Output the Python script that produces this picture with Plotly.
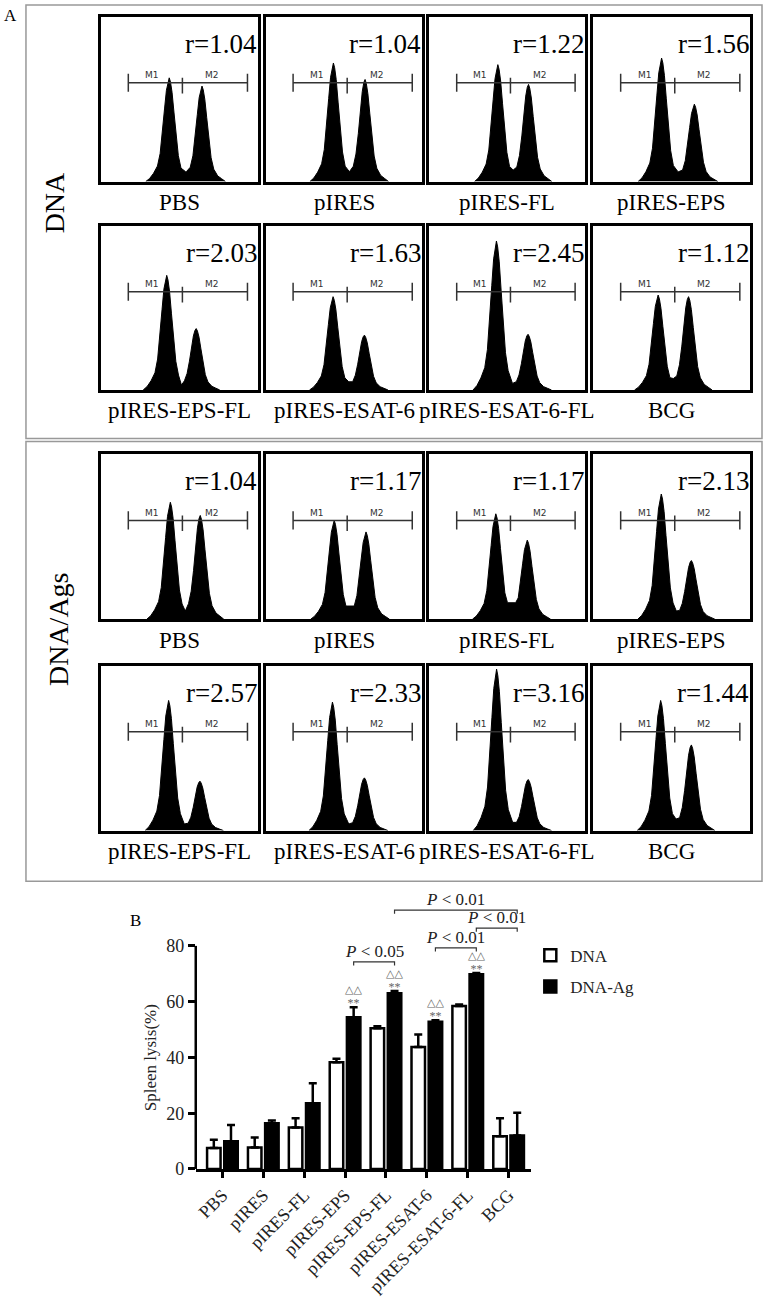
import plotly.graph_objects as go

W, H = 767, 1304
SERIF = "Liberation Serif, Times New Roman, serif"
SANS = "DejaVu Sans, Arial, sans-serif"

# ---------------- Panel A data ----------------
panel_labels = ["PBS", "pIRES", "pIRES-FL", "pIRES-EPS",
                "pIRES-EPS-FL", "pIRES-ESAT-6", "pIRES-ESAT-6-FL", "BCG"]
r_dna = [1.04, 1.04, 1.22, 1.56, 2.03, 1.63, 2.45, 1.12]
r_dna_ags = [1.04, 1.17, 1.17, 2.13, 2.57, 2.33, 3.16, 1.44]

# histogram peaks (channel position on 0-1 scale, relative count height 0-1)
m1_pos_dna = [0.436, 0.432, 0.439, 0.436, 0.420, 0.430, 0.430, 0.414]
m1_height_dna = [0.63, 0.72, 0.71, 0.75, 0.70, 0.57, 0.91, 0.58]
m2_pos_dna = [0.645, 0.634, 0.636, 0.645, 0.608, 0.630, 0.633, 0.608]
m2_height_dna = [0.58, 0.62, 0.59, 0.47, 0.375, 0.335, 0.34, 0.57]
valley_dna = [0.06, 0.06, 0.07, 0.06, 0.03, 0.05, 0.04, 0.07]

m1_pos_ags = [0.443, 0.437, 0.426, 0.434, 0.432, 0.426, 0.431, 0.430]
m1_height_ags = [0.71, 0.60, 0.64, 0.76, 0.79, 0.78, 0.98, 0.79]
m2_pos_ags = [0.634, 0.640, 0.628, 0.626, 0.632, 0.630, 0.634, 0.626]
m2_height_ags = [0.63, 0.53, 0.48, 0.356, 0.30, 0.32, 0.31, 0.52]
valley_ags = [0.05, 0.08, 0.10, 0.05, 0.04, 0.04, 0.05, 0.07]

# shape of a single peak (offset, fraction of peak height)
peak_shape_dx = [-0.15, -0.125, -0.10, -0.075, -0.058, -0.043, -0.03, -0.018, -0.008, 0.0,
                 0.008, 0.018, 0.03, 0.043, 0.058, 0.075, 0.10, 0.125, 0.15]
peak_shape_frac = [0.0, 0.03, 0.08, 0.15, 0.27, 0.47, 0.70, 0.88, 0.97, 1.0,
                   0.96, 0.86, 0.67, 0.45, 0.25, 0.13, 0.06, 0.03, 0.0]

# M1 / M2 gates
gate_bounds = [0.175, 0.52, 0.935]
gate_level = 0.6

# ---------------- Panel B data ----------------
categories = ["PBS", "pIRES", "pIRES-FL", "pIRES-EPS",
              "pIRES-EPS-FL", "pIRES-ESAT-6", "pIRES-ESAT-6-FL", "BCG"]
dna_lysis = [7.5, 7.7, 14.9, 38.3, 50.5, 43.7, 58.4, 11.7]
dna_err = [3.0, 3.6, 3.3, 1.2, 0.7, 4.5, 0.6, 6.5]
dnaag_lysis = [9.9, 16.4, 23.6, 54.4, 63.0, 52.8, 69.8, 12.0]
dnaag_err = [5.9, 1.0, 7.1, 3.6, 0.8, 0.5, 0.5, 8.2]
y_ticks = [0, 20, 40, 60, 80]

sig_left = [3, 5, 6, 4]
sig_right = [4, 6, 7, 7]
sig_value = ["0.05", "0.01", "0.01", "0.01"]
sig_level = [74.3, 79.3, 86.4, 92.8]
marked_groups = [3, 4, 5, 6]


def px(x):
    return x / W


def py(y):
    return 1 - y / H


def outline(p1, h1, p2, h2, v):
    mid = (p1 + p2) / 2
    xs, ys = [], []
    for dx, f in zip(peak_shape_dx, peak_shape_frac):
        x = p1 + dx
        if x < mid:
            xs.append(x)
            ys.append(max(h1 * f, v) if x > p1 else h1 * f)
    xs.append(mid)
    ys.append(v)
    for dx, f in zip(peak_shape_dx, peak_shape_frac):
        x = p2 + dx
        if x > mid:
            xs.append(x)
            ys.append(max(h2 * f, v) if x < p2 else h2 * f)
    return xs, ys


def paper_text(x, y, text, size, family=SERIF, color="black", angle=0):
    return dict(x=px(x), y=py(y), xref="paper", yref="paper", text=text, showarrow=False,
                xanchor="center", yanchor="middle", textangle=angle,
                font=dict(family=family, size=size, color=color))


fig = go.Figure()
layout = dict(
    width=W, height=H, margin=dict(l=0, r=0, t=0, b=0, pad=0),
    paper_bgcolor="white", plot_bgcolor="white", showlegend=True,
)
annotations = []
shapes = []

# ---- Panel A layout ----
col_x = [(100, 257), (265, 422), (429, 585), (593, 750)]
row_y = [(17, 183), (228, 393), (458, 624), (671, 837)]

groups = [
    (r_dna, m1_pos_dna, m1_height_dna, m2_pos_dna, m2_height_dna, valley_dna),
    (r_dna_ags, m1_pos_ags, m1_height_ags, m2_pos_ags, m2_height_ags, valley_ags),
]

idx = 0
for g, (rv, p1s, h1s, p2s, h2s, vs) in enumerate(groups):
    for k in range(8):
        row = g * 2 + k // 4
        col = k % 4
        n = idx + 2
        xa, ya = f"x{n}", f"y{n}"
        x0, x1 = col_x[col]
        y0, y1 = row_y[row]
        layout[f"xaxis{n}"] = dict(domain=[px(x0), px(x1)], range=[0, 1], anchor=ya,
                                  showline=True, mirror=True, linewidth=3, linecolor="black",
                                  showticklabels=False, ticks="", showgrid=False, zeroline=False,
                                  fixedrange=True)
        layout[f"yaxis{n}"] = dict(domain=[py(y1), py(y0)], range=[0, 1], anchor=xa,
                                  showline=True, mirror=True, linewidth=3, linecolor="black",
                                  showticklabels=False, ticks="", showgrid=False, zeroline=False,
                                  fixedrange=True)
        hx, hy = outline(p1s[k], h1s[k], p2s[k], h2s[k], vs[k])
        fig.add_trace(go.Scatter(x=hx, y=hy, xaxis=xa, yaxis=ya, mode="lines",
                                 fill="tozeroy", fillcolor="black",
                                 line=dict(color="black", width=1),
                                 showlegend=False, hoverinfo="skip"))
        g0, g1, g2 = gate_bounds
        L = gate_level
        fig.add_trace(go.Scatter(
            x=[g0, g2, None, g0, g0, None, g1, g1, None, g2, g2],
            y=[L, L, None, L - 0.055, L + 0.055, None, L - 0.065, L + 0.03, None, L - 0.055, L + 0.055],
            xaxis=xa, yaxis=ya, mode="lines", line=dict(color="#333", width=1.5),
            showlegend=False, hoverinfo="skip"))
        annotations.append(dict(x=(g0 + g1) / 2 - 0.02, y=L + 0.045, xref=xa, yref=ya, text="M1",
                                xanchor="center", yanchor="middle",
                                showarrow=False, font=dict(family=SANS, size=9, color="#333")))
        annotations.append(dict(x=(g1 + g2) / 2 - 0.02, y=L + 0.045, xref=xa, yref=ya, text="M2",
                                xanchor="center", yanchor="middle",
                                showarrow=False, font=dict(family=SANS, size=9, color="#333")))
        annotations.append(dict(x=px(x1 + 1), y=py(y0 + 27), xref="paper", yref="paper",
                                xanchor="right", yanchor="middle",
                                text=f"r={rv[k]:.2f}", showarrow=False,
                                font=dict(family=SERIF, size=27, color="black")))
        annotations.append(paper_text((x0 + x1) / 2, y1 + 21, panel_labels[k], 23))
        idx += 1

# frames of panel A
shapes.append(dict(type="rect", xref="paper", yref="paper", x0=px(25), x1=px(762),
                   y0=py(442), y1=py(5), line=dict(color="#999", width=1.5)))
shapes.append(dict(type="rect", xref="paper", yref="paper", x0=px(25), x1=px(762),
                   y0=py(888), y1=py(445), line=dict(color="#999", width=1.5)))
annotations.append(paper_text(10, 16, "A", 17))
annotations.append(paper_text(54, 204, "DNA", 28, angle=-90))
annotations.append(paper_text(57, 634, "DNA/Ags", 28, angle=-90))

# ---- Panel B ----
bar_w = 0.33
fig.add_trace(go.Bar(
    x=categories, y=dna_lysis, name="DNA", width=bar_w, offset=-0.375,
    marker=dict(color="white", line=dict(color="black", width=2.5)),
    error_y=dict(type="data", symmetric=False, array=dna_err, arrayminus=[0] * len(dna_err),
                 color="black", thickness=2.5, width=4),
    legendgroup="a"))
fig.add_trace(go.Bar(
    x=categories, y=dnaag_lysis, name="DNA-Ag", width=bar_w, offset=0.045,
    marker=dict(color="black", line=dict(color="black", width=2.5)),
    error_y=dict(type="data", symmetric=False, array=dnaag_err, arrayminus=[0] * len(dnaag_err),
                 color="black", thickness=2.5, width=4),
    legendgroup="b"))

layout["barmode"] = "overlay"
layout["xaxis"] = dict(domain=[px(195), px(531)], range=[-0.652, 7.555], anchor="y",
                       showline=True, linewidth=2.5, linecolor="black",
                       ticks="outside", ticklen=6, tickwidth=2.5, tickcolor="black",
                       tickangle=-45, tickfont=dict(family=SERIF, size=18, color="#222"),
                       showgrid=False, zeroline=False)
layout["yaxis"] = dict(domain=[py(1178), py(897)], range=[0, 100], anchor="x",
                       showline=False, tickvals=y_ticks,
                       ticks="outside", ticklen=7, tickwidth=2.5, tickcolor="black",
                       tickfont=dict(family=SERIF, size=18, color="#222"),
                       showgrid=False, zeroline=False)
shapes.append(dict(type="line", xref="x domain", yref="y", x0=0, x1=0, y0=0, y1=y_ticks[-1],
                   line=dict(color="black", width=2.5)))
annotations.append(dict(x=px(150), y=40, xref="paper", yref="y", text="Spleen lysis(%)",
                        xanchor="center", yanchor="middle",
                        textangle=-90, showarrow=False, font=dict(family=SERIF, size=17, color="#222")))
annotations.append(paper_text(135, 928, "B", 17))

ag_center = 0.045 + bar_w / 2
for a, b, v, lv in zip(sig_left, sig_right, sig_value, sig_level):
    xa_, xb_ = a + ag_center, b + ag_center
    shapes.append(dict(type="path", xref="x", yref="y",
                       path=f"M {xa_},{lv - 1.3} L {xa_},{lv} L {xb_},{lv} L {xb_},{lv - 1.3}",
                       line=dict(color="#333", width=1.2)))
    annotations.append(dict(x=(xa_ + xb_) / 2, y=lv + 3.8, xref="x", yref="y",
                            text=f"<i>P</i> &lt; {v}", xanchor="center", yanchor="middle",
                            showarrow=False, font=dict(family=SERIF, size=17, color="#222")))

for gi in marked_groups:
    top = dnaag_lysis[gi] + dnaag_err[gi]
    annotations.append(dict(x=gi + ag_center, y=top, xref="x", yref="y",
                            text="△△<br><span style='font-size:12px;font-family:Liberation Serif'>**</span>",
                            xanchor="center", yanchor="bottom", yshift=-5,
                            showarrow=False, font=dict(family=SANS, size=11, color="#666")))

layout["legend"] = dict(x=px(530), y=py(945), xanchor="left", yanchor="top",
                        font=dict(family=SERIF, size=17, color="#222"),
                        bgcolor="rgba(0,0,0,0)", tracegroupgap=6)
layout["annotations"] = annotations
layout["shapes"] = shapes
fig.update_layout(**layout)

fig.write_html("out.html", config={"displayModeBar": False},
               post_script="document.body.style.margin='0px';")
